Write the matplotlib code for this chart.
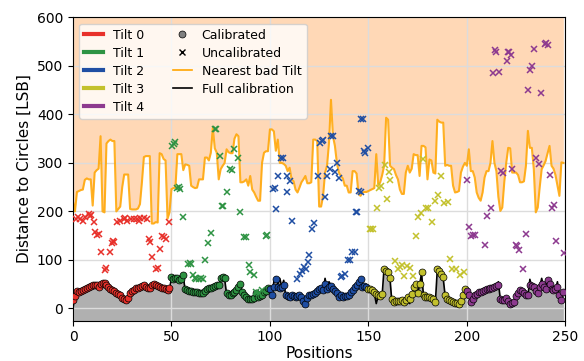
import numpy as np
import matplotlib
matplotlib.use("Agg")
import matplotlib.pyplot as plt
from matplotlib.lines import Line2D

# ==================== Data ====================
tilt_names = ["Tilt 0", "Tilt 1", "Tilt 2", "Tilt 3", "Tilt 4"]
tilt_colors = ["#e8312b", "#2e9343", "#1f4ea3", "#c3c12d", "#8d3a8f"]
tilt_start = [0, 50, 100, 150, 200]

# nearest bad tilt distance, one value per position
nearest_bad_t0 = [220, 200, 240, 242, 244, 245, 265, 268, 266, 266,
                  212, 280, 285, 288, 355, 200, 198, 340, 345, 348,
                  345, 345, 200, 205, 210, 250, 276, 276, 276, 205,
                  204, 204, 204, 206, 215, 260, 312, 314, 314, 314,
                  175, 175, 178, 177, 320, 318, 308, 305, 185, 198]
nearest_bad_t1 = [246, 248, 249, 318, 318, 318, 285, 297, 296, 294,
                  253, 250, 248, 249, 266, 266, 266, 311, 311, 305,
                  321, 372, 330, 321, 266, 287, 294, 300, 328, 322,
                  320, 320, 350, 359, 355, 260, 260, 262, 266, 253,
                  273, 245, 239, 230, 222, 222, 300, 321, 324, 324]
nearest_bad_t2 = [369, 369, 365, 325, 348, 300, 300, 298, 294, 283,
                  290, 266, 262, 245, 239, 249, 260, 266, 273, 258,
                  258, 260, 348, 348, 345, 210, 210, 232, 280, 294,
                  341, 430, 355, 335, 300, 280, 273, 268, 253, 253,
                  239, 239, 283, 283, 278, 236, 232, 239, 240, 240]
nearest_bad_t3 = [242, 244, 246, 248, 318, 253, 260, 275, 294, 393,
                  389, 294, 290, 287, 275, 266, 245, 236, 236, 280,
                  294, 280, 288, 318, 316, 316, 273, 335, 335, 332,
                  266, 307, 305, 280, 278, 389, 385, 383, 383, 294,
                  296, 294, 294, 253, 239, 240, 242, 280, 292, 300]
nearest_bad_t4 = [294, 328, 283, 283, 270, 239, 228, 222, 239, 270,
                  283, 283, 300, 345, 300, 283, 230, 201, 208, 260,
                  300, 331, 330, 280, 280, 280, 275, 260, 260, 262,
                  294, 366, 331, 331, 287, 198, 208, 250, 287, 295,
                  304, 320, 335, 294, 288, 275, 253, 232, 301, 300]

# calibrated distance (per tilt calibration)
calib_t0 = [17, 25, 35, 34, 35, 38, 40, 42, 45, 47, 49, 49, 48, 44, 50, 52, 53, 48, 44, 40,
            37, 35, 31, 29, 27, 22, 20, 18, 22, 31, 35, 38, 42, 43, 44, 47, 48, 44, 43, 42,
            48, 51, 48, 47, 44, 43, 42, 40, 38, 42]
calib_t1 = [65, 61, 62, 63, 58, 60, 68, 40, 37, 36, 35, 34, 33, 33, 31, 31, 31, 36, 41, 42,
            43, 44, 46, 48, 48, 63, 65, 63, 31, 28, 27, 31, 34, 38, 44, 51, 34, 28, 24, 20,
            19, 20, 22, 31, 24, 25, 27, 34, 36, 42]
calib_t2 = [40, 27, 45, 60, 44, 42, 44, 48, 27, 25, 24, 27, 26, 24, 26, 27, 24, 15, 10, 22,
            27, 28, 29, 31, 35, 40, 42, 38, 51, 41, 44, 46, 40, 35, 31, 24, 27, 24, 25, 26,
            27, 33, 38, 44, 49, 55, 61, 44, 46, 45]
calib_t3 = [41, 40, 38, 33, 29, 27, 26, 30, 82, 78, 75, 63, 20, 14, 15, 15, 16, 17, 14, 18,
            24, 20, 30, 44, 51, 31, 50, 75, 27, 24, 24, 24, 22, 20, 14, 82, 78, 72, 65, 27,
            20, 17, 15, 14, 12, 12, 10, 15, 27, 41]
calib_t4 = [35, 27, 14, 20, 27, 30, 33, 34, 36, 38, 40, 41, 42, 43, 44, 46, 48, 20, 18, 17,
            22, 15, 10, 12, 14, 25, 31, 38, 35, 31, 28, 27, 48, 46, 44, 35, 31, 45, 51, 45,
            41, 58, 50, 41, 38, 40, 44, 27, 17, 34]

# full calibration distance
full_t0 = [0, 28, 32, 32, 34, 36, 38, 40, 43, 45, 47, 47, 46, 42, 48, 50, 51, 46, 42, 38,
           35, 33, 29, 27, 25, 20, 18, 16, 20, 29, 33, 36, 40, 41, 42, 45, 46, 42, 41, 40,
           46, 49, 46, 45, 42, 41, 40, 38, 36, 40]
full_t1 = [62, 58, 60, 61, 56, 58, 66, 36, 35, 34, 33, 32, 31, 31, 29, 29, 29, 34, 39, 40,
           41, 42, 44, 46, 46, 61, 63, 61, 29, 26, 25, 29, 32, 36, 42, 49, 32, 26, 22, 18,
           17, 18, 20, 29, 22, 23, 25, 32, 34, 40]
full_t2 = [38, 25, 55, 65, 50, 62, 45, 58, 25, 18, 22, 25, 24, 20, 24, 25, 22, 12, 8, 20,
           25, 26, 27, 29, 33, 38, 40, 36, 62, 39, 55, 48, 38, 33, 29, 22, 25, 22, 23, 24,
           25, 31, 36, 42, 47, 53, 59, 42, 44, 43]
full_t3 = [39, 38, 36, 31, 10, 25, 24, 28, 85, 80, 73, 60, 10, 12, 13, 13, 14, 15, 12, 16,
           22, 10, 28, 42, 49, 29, 48, 73, 25, 22, 22, 22, 20, 18, 12, 80, 76, 70, 62, 25,
           18, 15, 13, 12, 10, 10, 8, 13, 25, 39]
full_t4 = [33, 25, 12, 18, 25, 28, 31, 32, 34, 36, 38, 39, 40, 41, 42, 44, 55, 18, 16, 15,
           20, 13, 8, 10, 12, 23, 29, 36, 33, 29, 26, 25, 60, 44, 42, 33, 29, 43, 62, 43,
           39, 60, 48, 39, 36, 38, 55, 25, 15, 32]

# uncalibrated distances (x = position, y = distance)
uncal_x_t0 = [1.7, 2.5, 3.4, 5.1, 6.3, 8.0, 8.6, 9.2, 10.5, 11.4, 12.2, 13.1, 14.4, 16.4, 17.0,
              18.6, 19.8, 20.4, 21.0, 22.4, 24.1, 25.8, 26.5, 27.5, 29.2, 30.8, 32.5, 33.3,
              34.2, 35.9, 37.6, 38.5, 39.3, 40.2, 41.9, 43.0, 44.4, 45.3, 46.2, 47.0, 48.6]
uncal_y_t0 = [184, 188, 184, 181, 188, 195, 190, 193, 179, 158, 152, 154, 117, 79, 83,
              117, 135, 139, 137, 178, 181, 184, 187, 181, 184, 184, 184, 181,
              186, 186, 184, 143, 137, 106, 82, 83, 123, 150, 147, 143, 178]
uncal_x_t1 = [50.5, 51.2, 51.9, 52.8, 53.6, 54.4, 56.1, 58.3, 59.2, 60.0, 60.8, 62.0, 62.5,
              64.2, 65.0, 65.9, 67.1, 68.8, 70.2, 71.9, 72.7, 74.7, 75.6, 76.2, 78.1, 79.8,
              80.7, 81.9, 83.7, 84.9, 87.0, 87.6, 89.2, 90.0, 91.7, 92.9, 94.2, 96.0, 98.0, 98.6]
uncal_y_t1 = [335, 338, 343, 248, 250, 246, 188, 92, 93, 92, 68, 63, 61,
              61, 62, 61, 99, 135, 156, 369, 369, 314, 212, 212, 239, 287,
              286, 329, 311, 198, 147, 147, 89, 75, 68, 34, 31, 38, 150, 152]
uncal_x_t2 = [101.7, 102.5, 103.0, 104.2, 105.4, 106.4, 108.5, 108.8, 110.2, 111.0, 113.6,
              115.3, 116.2, 117.1, 118.3, 119.3, 120.0, 121.2, 122.5, 124.4, 125.6, 126.3,
              126.8, 128.1, 129.0, 130.7, 131.2, 132.0, 133.0, 134.2, 135.2, 135.9, 136.6,
              137.9, 139.7, 140.8, 141.8, 143.0, 143.5, 144.2, 145.0, 146.0, 146.4, 147.3,
              147.7, 148.5, 149.8]
uncal_y_t2 = [246, 249, 205, 273, 311, 311, 239, 272, 263, 181, 61,
              72, 78, 85, 82, 96, 111, 163, 176, 272, 341, 345,
              348, 229, 272, 287, 355, 355, 281, 300, 268, 64, 67,
              72, 99, 99, 116, 116, 198, 198, 242, 391, 239, 391,
              324, 321, 331]
uncal_x_t3 = [150.7, 151.5, 152.4, 154.6, 155.2, 156.6, 158.3, 159.2, 160.3, 160.8, 163.3,
              165.0, 166.0, 166.9, 168.1, 169.8, 171.2, 172.9, 174.2, 175.4, 176.6, 177.9,
              179.3, 180.5, 182.2, 184.0, 185.6, 186.8, 188.6, 190.3, 191.3, 192.4, 194.6,
              196.6, 198.3]
uncal_y_t3 = [163, 163, 163, 208, 249, 253, 295, 225, 281, 265, 97,
              82, 86, 89, 67, 87, 83, 67, 150, 188, 197, 307,
              206, 206, 178, 222, 234, 272, 217, 219, 102, 82, 82,
              68, 75]
uncal_x_t4 = [200.2, 201.0, 202.2, 203.0, 203.9, 209.0, 210.2, 212.4, 213.2, 214.6, 214.2,
              216.3, 217.5, 218.6, 220.3, 220.9, 221.4, 222.5, 223.1, 225.0, 225.7, 226.3,
              228.5, 230.2, 231.2, 231.9, 233.2, 233.9, 235.2, 236.6, 237.9, 239.5, 240.3,
              241.2, 242.0, 243.4, 244.1, 245.4, 249.2]
uncal_y_t4 = [264, 167, 150, 152, 152, 130, 191, 208, 485, 529, 533,
              488, 283, 279, 509, 529, 529, 522, 287, 131, 128, 120,
              81, 154, 451, 492, 500, 534, 311, 297, 444, 546, 548,
              543, 275, 208, 213, 140, 115]

nearest_bad = nearest_bad_t0 + nearest_bad_t1 + nearest_bad_t2 + nearest_bad_t3 + nearest_bad_t4
full_cal = full_t0 + full_t1 + full_t2 + full_t3 + full_t4
calib = [calib_t0, calib_t1, calib_t2, calib_t3, calib_t4]
uncal_x = [uncal_x_t0, uncal_x_t1, uncal_x_t2, uncal_x_t3, uncal_x_t4]
uncal_y = [uncal_y_t0, uncal_y_t1, uncal_y_t2, uncal_y_t3, uncal_y_t4]
positions = np.arange(len(full_cal))

# ==================== Plot ====================
fig = plt.figure(figsize=(5.84, 3.61), dpi=100)
ax = fig.add_axes([0.125, 0.112, 0.843, 0.840])

y_lo, y_hi = -25, 600

ax.fill_between(positions, nearest_bad, y_hi + 50, color='C1', alpha=0.3, lw=0)
ax.fill_between(positions, y_lo - 50, full_cal, color='#b0b0b0', lw=0)
ax.grid(True, color='#dcdcdc', lw=1)

ax.plot(positions, nearest_bad, color='orange', alpha=0.85, lw=1.5, zorder=2)
ax.plot(positions, full_cal, color='k', lw=1.2, zorder=3)

for i in range(5):
    px = positions[tilt_start[i]:tilt_start[i] + len(calib[i])]
    ax.plot(px, calib[i], 'o', ms=5, mfc=tilt_colors[i], mec='k', mew=0.5, zorder=4)
    ax.plot(uncal_x[i], uncal_y[i], 'x', ms=4.5, color=tilt_colors[i], mew=1.1, zorder=5)

ax.set_xlim(0, 250)
ax.set_ylim(y_lo, y_hi)
ax.set_xticks([0, 50, 100, 150, 200, 250])
ax.set_yticks([0, 100, 200, 300, 400, 500, 600])
ax.tick_params(labelsize=10)
ax.set_xlabel('Positions', fontsize=11, labelpad=1)
ax.set_ylabel('Distance to Circles [LSB]', fontsize=11)

handles = [Line2D([], [], color=c, lw=3) for c in tilt_colors]
handles += [Line2D([], [], ls='none', marker='o', ms=5, mfc='gray', mec='k', mew=0.5),
            Line2D([], [], ls='none', marker='x', ms=4.5, color='k', mew=1),
            Line2D([], [], color='orange', lw=1.2),
            Line2D([], [], color='k', lw=1.2)]
labels = tilt_names + ['Calibrated', 'Uncalibrated', 'Nearest bad Tilt', 'Full calibration']
ax.legend(handles, labels, loc='upper left', ncol=2, fontsize=9, handlelength=1.5,
          labelspacing=0.4, columnspacing=2.3)

fig.savefig('out.png', dpi=100)
